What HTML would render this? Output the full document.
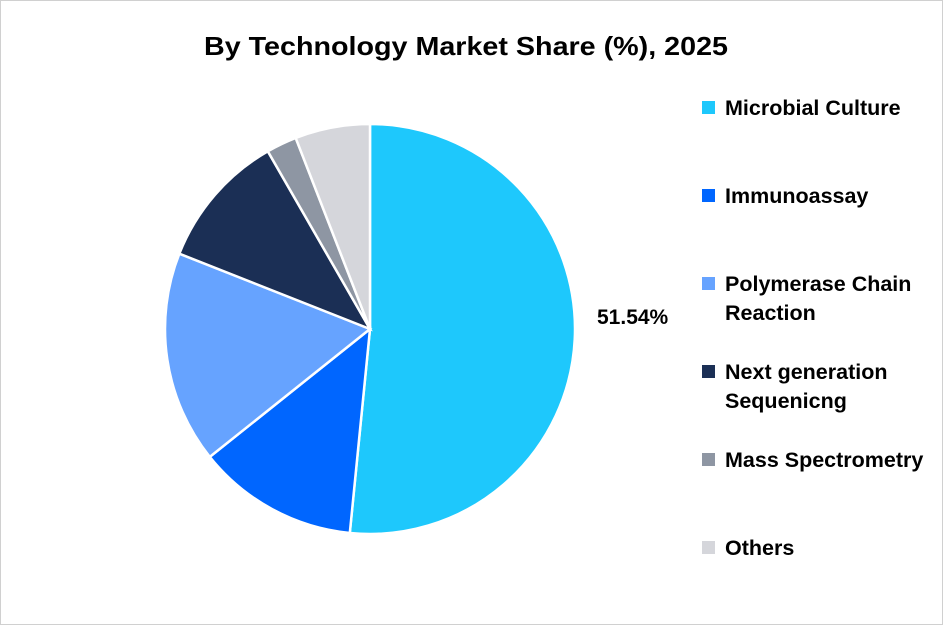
<!DOCTYPE html>
<html><head><meta charset="utf-8"><style>
body{margin:0;background:#fff;}
#wrap{position:relative;width:941px;height:623px;border:1px solid #d0d0d0;font-family:"Liberation Sans",sans-serif;}
</style></head><body>
<div id="wrap">
<svg id="chart" width="941" height="623">
<text x="465" y="54" text-anchor="middle" font-size="26" font-weight="bold" fill="#000" textLength="524" lengthAdjust="spacingAndGlyphs">By Technology Market Share (%), 2025</text>
<g id="slices"></g>
<g id="legend"></g>
</svg>
</div>
<script>
const categories=["Microbial Culture","Immunoassay","Polymerase Chain Reaction","Next generation Sequenicng","Mass Spectrometry","Others"];
const legendLines=[["Microbial Culture"],["Immunoassay"],["Polymerase Chain","Reaction"],["Next generation","Sequenicng"],["Mass Spectrometry"],["Others"]];
const values=[51.54,12.7,16.7,10.7,2.4,5.9];
const colors=["#1EC8FC","#0066FF","#66A3FF","#1B2F55","#8E96A3","#D5D6DB"];
const ns="http://www.w3.org/2000/svg";
const cx=369,cy=328,r=205;
const total=values.reduce((a,b)=>a+b,0);
const g=document.getElementById('slices');
function pt(a){return [cx+r*Math.sin(a),cy-r*Math.cos(a)];}
let start=0;
values.forEach((v,i)=>{
  const ang=v/total*2*Math.PI;
  const [x1,y1]=pt(start),[x2,y2]=pt(start+ang);
  const p=document.createElementNS(ns,'path');
  p.setAttribute('d',`M${cx},${cy}L${x1},${y1}A${r},${r} 0 ${ang>Math.PI?1:0} 1 ${x2},${y2}Z`);
  p.setAttribute('fill',colors[i]);p.setAttribute('stroke','#fff');p.setAttribute('stroke-width','2.5');
  
  
  g.appendChild(p);
  start+=ang;
});
const lbl=document.createElementNS(ns,'text');
lbl.setAttribute('x',596);lbl.setAttribute('y',323);lbl.setAttribute('font-size','21');lbl.setAttribute('font-weight','bold');
lbl.textContent=values[0].toFixed(2)+'%';


g.appendChild(lbl);
const lg=document.getElementById('legend');
const ys=[107,195,283,371,459,547];
legendLines.forEach((lines,i)=>{
  const rc=document.createElementNS(ns,'rect');
  rc.setAttribute('x',701);rc.setAttribute('y',ys[i]-7);rc.setAttribute('width',13);rc.setAttribute('height',13);rc.setAttribute('fill',colors[i]);
  
  
  lg.appendChild(rc);
  const t=document.createElementNS(ns,'text');
  t.setAttribute('x',724);t.setAttribute('font-size','21.5');t.setAttribute('font-weight','bold');
  lines.forEach((ln,j)=>{const ts=document.createElementNS(ns,'tspan');ts.setAttribute('x',724);ts.setAttribute('y',ys[i]+7+j*29);ts.textContent=ln;t.appendChild(ts);});
  
  
  lg.appendChild(t);
});
</script>
</body></html>
